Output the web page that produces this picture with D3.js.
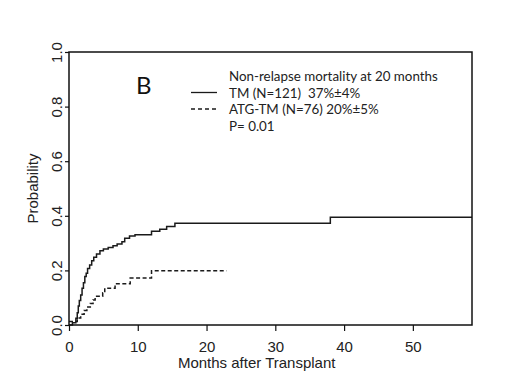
<!DOCTYPE html>
<html lang="en">
<head>
    <meta charset="UTF-8">
    <title>Non-relapse mortality</title>
    <script src="https://d3js.org/d3.v7.min.js"></script>
    <style>
        body { margin: 0; background: #fff; }
    </style>
</head>
<body>
<script>
    const width  = 520;
    const height = 390;

    // cumulative incidence, step times (months) and values
    const tmMonths  = [0, 0.5, 1.0, 1.2, 1.35, 1.5, 1.7, 1.9, 2.1, 2.3, 2.5, 2.7, 3.0, 3.3, 3.6, 4.0, 4.5, 5.0, 5.7, 6.4, 7.0, 7.7, 8.1, 8.8, 9.6, 12.0, 13.2, 14.2, 15.4, 38.0, 58.6];
    const tmValues  = [0, 0.008, 0.025, 0.045, 0.07, 0.09, 0.11, 0.135, 0.155, 0.178, 0.19, 0.207, 0.22, 0.235, 0.248, 0.26, 0.272, 0.278, 0.284, 0.29, 0.297, 0.305, 0.318, 0.326, 0.331, 0.343, 0.351, 0.361, 0.373, 0.395, 0.395];
    const atgMonths = [0, 1.2, 1.7, 2.2, 2.6, 3.1, 3.5, 3.8, 4.9, 5.2, 6.7, 8.9, 12.0, 22.9];
    const atgValues = [0.013, 0.026, 0.039, 0.053, 0.066, 0.079, 0.092, 0.105, 0.118, 0.135, 0.151, 0.172, 0.199, 0.199];

    const xTicks = [0, 10, 20, 30, 40, 50];
    const yTicks = [0, 0.2, 0.4, 0.6, 0.8, 1.0];
    const legendTitle = "Non-relapse mortality at 20 months";
    const legendRows  = ["TM (N=121)  37%\u00b14%", "ATG-TM (N=76) 20%\u00b15%"];
    const pValue      = "P= 0.01";

    const axisFont  = "'Liberation Sans', Arial, sans-serif";
    const labelFont = "Lato, 'Open Sans', sans-serif";

    const x = d3.scaleLinear().domain([0, 58.6]).range([69, 472]);
    const y = d3.scaleLinear().domain([0, 1]).range([325, 52]);

    const svg = d3.select("body")
            .append("svg")
            .attr("width", width)
            .attr("height", height);

    const step = d3.line()
            .x(d => x(d[0]))
            .y(d => y(d[1]))
            .curve(d3.curveStepAfter);

    svg.append("path")
            .attr("d", step(d3.zip(tmMonths, tmValues)))
            .attr("fill", "none")
            .attr("stroke", "#1a1a1a")
            .attr("stroke-width", 1.5);

    svg.append("path")
            .attr("d", step(d3.zip(atgMonths, atgValues)))
            .attr("fill", "none")
            .attr("stroke", "#1a1a1a")
            .attr("stroke-width", 1.5)
            .attr("stroke-dasharray", "4,2.5");

    // box
    svg.append("rect")
            .attr("x", x(0)).attr("y", y(1))
            .attr("width", x.range()[1] - x(0))
            .attr("height", y(0) - y(1))
            .attr("fill", "none")
            .attr("stroke", "#111")
            .attr("stroke-width", 1.5);

    // x axis
    const xAxis = svg.append("g")
            .attr("transform", "translate(0," + y(0) + ")")
            .call(d3.axisBottom(x).tickValues(xTicks).tickSize(6).tickPadding(0).tickFormat(d3.format("d")));
    xAxis.select(".domain").remove();
    xAxis.selectAll("line").attr("stroke", "#111").attr("stroke-width", 1.2);
    xAxis.selectAll("text")
            .attr("y", 27).attr("dy", null)
            .style("font-family", axisFont).style("font-size", "15px").attr("fill", "#222");

    // y axis, labels turned like R does
    const yAxis = svg.append("g")
            .attr("transform", "translate(" + x(0) + ",0)")
            .call(d3.axisLeft(y).tickValues(yTicks).tickSize(4).tickFormat(d3.format(".1f")));
    yAxis.select(".domain").remove();
    yAxis.selectAll("line").attr("stroke", "#111").attr("stroke-width", 1.2);
    yAxis.selectAll(".tick text")
            .attr("x", null).attr("dy", null)
            .attr("text-anchor", "middle")
            .attr("transform", "translate(-7,0) rotate(-90)")
            .style("font-family", axisFont).style("font-size", "15px").attr("fill", "#222");

    svg.append("text")
            .attr("x", 256.7).attr("y", 368)
            .attr("text-anchor", "middle")
            .style("font-family", axisFont).style("font-size", "15px").attr("fill", "#222")
            .text("Months after Transplant");

    svg.append("text")
            .attr("transform", "translate(38," + (y(0.5)) + ") rotate(-90)")
            .attr("text-anchor", "middle")
            .style("font-family", axisFont).style("font-size", "15px").attr("fill", "#222")
            .text("Probability");

    // panel letter
    svg.append("text")
            .attr("x", 136).attr("y", 93.5)
            .style("font-family", labelFont).style("font-size", "24px").attr("fill", "#111")
            .text("B");

    // legend
    const lg = svg.append("g").style("font-family", labelFont).attr("fill", "#222");
    const rows = [legendTitle].concat(legendRows).concat([pValue]);
    const texts = lg.selectAll("text")
            .data(rows)
            .enter()
            .append("text")
            .attr("x", 229)
            .attr("y", (d, i) => 81 + i * 16.5)
            .style("font-size", "13px")
            .style("white-space", "pre")
            .text(d => d);

    // fit the title width seen in the picture
    const w = texts.node().getComputedTextLength();
    texts.style("font-size", (13 * 209 / w).toFixed(2) + "px");

    lg.selectAll("line")
            .data(legendRows)
            .enter()
            .append("line")
            .attr("x1", 191).attr("x2", 217)
            .attr("y1", (d, i) => 92.5 + i * 16.5)
            .attr("y2", (d, i) => 92.5 + i * 16.5)
            .attr("stroke", "#1a1a1a")
            .attr("stroke-width", 1.3)
            .attr("stroke-dasharray", (d, i) => i ? "4,3" : null);
</script>
</body>
</html>
